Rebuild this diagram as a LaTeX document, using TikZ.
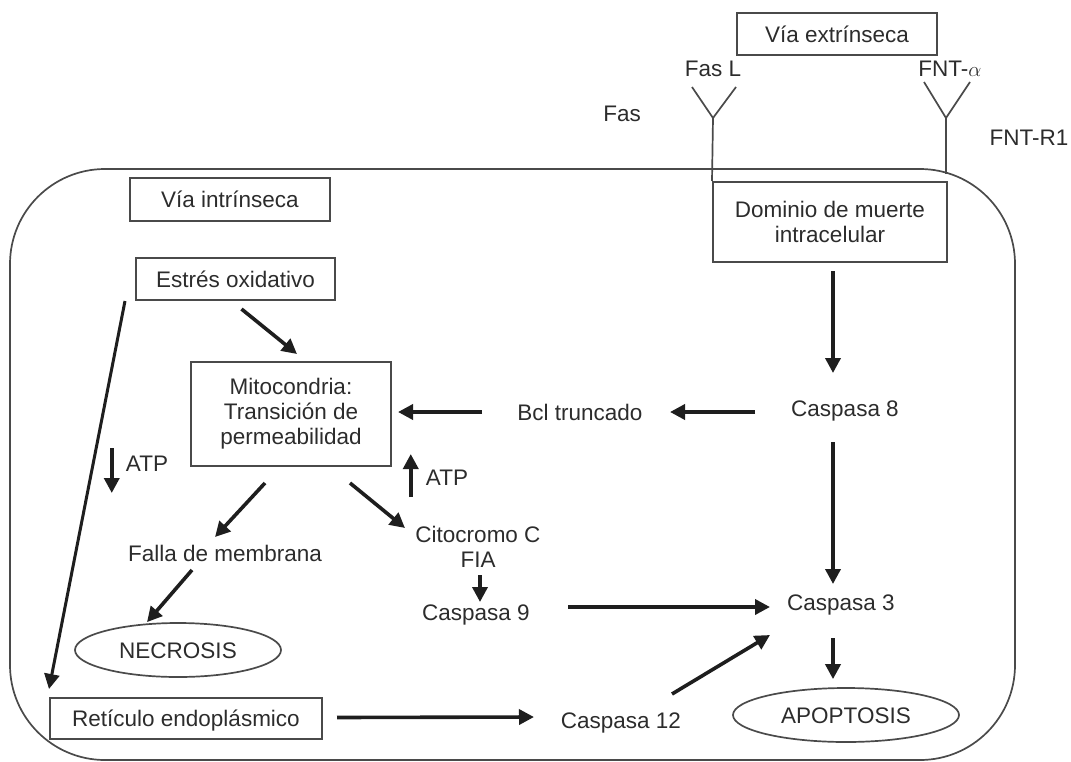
\documentclass[tikz,border=0pt]{standalone}
\usepackage{fontspec}
\setmainfont{Liberation Sans}
\usetikzlibrary{arrows.meta,calc,shapes.geometric}
\definecolor{ink}{HTML}{2C2C2C}
\definecolor{edge}{HTML}{4A4A4A}
\definecolor{arrowc}{HTML}{1E1E1E}
\begin{document}
\begin{tikzpicture}[x=1pt,y=-1pt,
  font=\fontsize{22.5}{25}\selectfont, text=ink,
  lbl/.style={inner sep=0pt, text height=16pt, text depth=0pt},
  box/.style={draw=edge, line width=2pt, inner sep=0pt, text height=16pt, text depth=0pt},
  mbox/.style={draw=edge, line width=2pt, align=center, inner sep=0pt},
  oval/.style={ellipse, draw=edge, line width=1.7pt, inner sep=0pt, text height=16pt, text depth=0pt},
  arr/.style={draw=arrowc, line width=3.6pt, -{Triangle[length=15pt,width=15pt]}},
  thinline/.style={draw=edge, line width=1.7pt}]
\useasboundingbox (0,0) rectangle (1071,761);

% cell membrane
\draw[thinline] [rounded corners=95pt] (10,169) rectangle (1015,760);

% extrinsic pathway
\node[box, minimum width=200, minimum height=42] (ext) at (837,34) {Vía extrínseca};
\node[lbl] (fasl) at (713,68) {Fas L};
\node[lbl] (fnta) at (950,68) {FNT-$\alpha$};
\node[lbl] (fas) at (622,113) {Fas};
\node[lbl] (fntr) at (1029,137) {FNT-R1};
\node[mbox, minimum width=234, minimum height=80] (dom) at (830,222) {Dominio de muerte\\intracelular};

% receptors
\coordinate (fasv) at (713,118);
\coordinate (fntv) at (946,118);
\coordinate (fntm) at (946,174);
\draw[thinline] (692,87) -- (fasv) -- (736,87);
\draw[thinline] (fasv) -- (dom.north west);
\draw[thinline] (924,82) -- (fntv) -- (970,82);
\draw[thinline] (fntv) -- (fntm);

% intrinsic pathway
\node[box, minimum width=200, minimum height=43] (intr) at (230,199.5) {Vía intrínseca};
\node[box, minimum width=199, minimum height=42] (estres) at (235.5,279) {Estrés oxidativo};
\node[mbox, minimum width=200, minimum height=104] (mito) at (291,414) {Mitocondria:\\Transición de\\permeabilidad};
\node[lbl] (bcl) at (580,412) {Bcl truncado};
\node[lbl] (cas8) at (845,408) {Caspasa 8};
\node[lbl] (atpa) at (147,463) {ATP};
\node[lbl] (atpb) at (447,477) {ATP};
\node[inner sep=0pt, align=center] (cito) at (478,547) {Citocromo C\\FIA};
\node[lbl] (falla) at (225,553) {Falla de membrana};
\node[lbl] (cas9) at (476,612) {Caspasa 9};
\node[lbl] (cas3) at (841,602) {Caspasa 3};
\node[oval, minimum width=206, minimum height=54] (necro) at (178,650) {NECROSIS};
\node[oval, minimum width=226, minimum height=54] (apop) at (846,715) {APOPTOSIS};
\node[box, minimum width=272, minimum height=41] (ret) at (186,718.5) {Retículo endoplásmico};
\node[lbl] (cas12) at (621,720) {Caspasa 12};

% connectors
\draw[arr] ($(dom.south)+(3,8)$) -- ($(cas8.center)+(-12,-35)$);
\draw[arr] ($(cas8.center)+(-90,4)$) -- ($(bcl.center)+(90,0)$);
\draw[arr] ($(bcl.center)+(-98,0)$) -- ($(mito.east)+(6,-2)$);
\draw[arr] ($(cas8.center)+(-12,34)$) -- ($(cas3.center)+(-8,-18)$);
\draw[arr] ($(estres.south)+(6,8)$) -- ($(mito.north)+(6,-7)$);
\draw[arr, line width=3pt] ($(estres.south west)+(-10,0)$) -- ($(ret.north west)+(0,-8)$);
\draw[arr] ($(atpa.west)+(-14,-15)$) -- ($(atpa.west)+(-14,30)$);
\draw[arr] ($(atpb.west)+(-15,20)$) -- ($(atpb.west)+(-15,-23)$);
\draw[arr] ($(mito.south)+(-26,16)$) -- ($(falla.center)+(-10,-16)$);
\draw[arr] ($(mito.south)+(59,16)$) -- ($(cito.center)+(-73,-19)$);
\draw[arr] ($(cito.center)+(2,28)$) -- ($(cas9.center)+(4,-10)$);
\draw[arr] ($(cas9.center)+(92,-5)$) -- ($(cas3.center)+(-71,5)$);
\draw[arr] ($(falla.center)+(-33,17)$) -- ($(necro.north)+(-31,0)$);
\draw[arr] ($(ret.east)+(14,-1)$) -- ($(cas12.center)+(-87,-3)$);
\draw[arr] ($(cas12.center)+(51,-26)$) -- ($(cas3.center)+(-71,33)$);
\draw[arr] ($(cas3.center)+(-8,36)$) -- ($(apop.north)+(-13,-8)$);
\end{tikzpicture}
\end{document}
